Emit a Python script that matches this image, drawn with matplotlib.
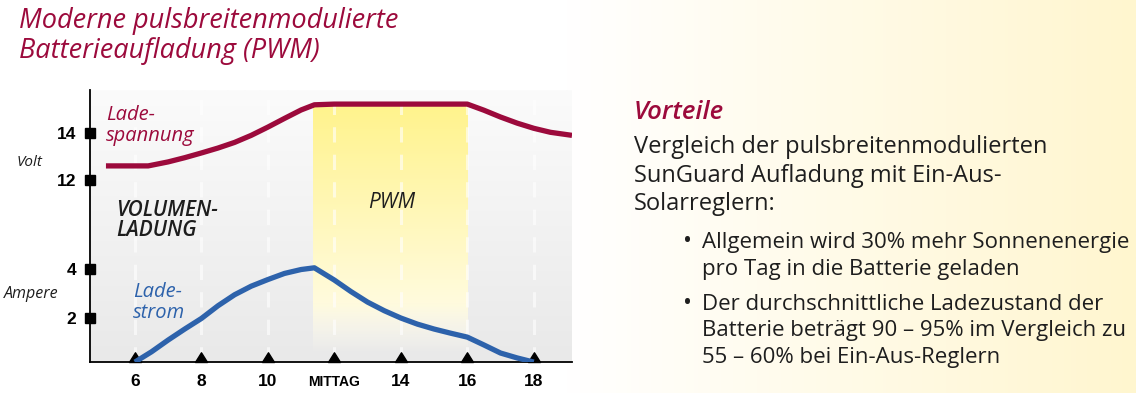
import numpy as np
import matplotlib
matplotlib.use("Agg")
import matplotlib.pyplot as plt
from matplotlib.path import Path
from matplotlib.colors import to_rgb

# --- data -------------------------------------------------------------------
hours_v = [5.13, 6.4, 7.0, 7.5, 8.0, 8.5, 9.0, 9.5, 10.0, 10.5, 11.0, 11.4, 12.0,
           14.0, 16.0, 16.5, 17.0, 17.5, 18.0, 18.5, 19.15]
volts = [12.6, 12.6, 12.77, 12.95, 13.15, 13.36, 13.6, 13.9, 14.25, 14.62, 14.98,
         15.2, 15.23, 15.23, 15.23, 14.97, 14.68, 14.42, 14.2, 14.03, 13.9]

hours_a = [6.0, 6.5, 7.0, 7.5, 8.0, 8.5, 9.0, 9.5, 10.0, 10.5, 11.0, 11.4,
           12.0, 12.5, 13.0, 13.5, 14.0, 14.5, 15.0, 15.5, 16.0, 16.5, 17.0, 17.5, 18.0]
amps = [0.2, 0.62, 1.1, 1.55, 1.98, 2.5, 2.95, 3.3, 3.57, 3.82, 3.98, 4.05,
        3.55, 3.08, 2.65, 2.3, 2.0, 1.75, 1.55, 1.38, 1.22, 0.9, 0.57, 0.37, 0.2]

hour_ticks = [6, 8, 10, 12, 14, 16, 18]
hour_labels = ["6", "8", "10", "MITTAG", "14", "16", "18"]
volt_ticks = [12, 14]
amp_ticks = [2, 4]
pwm_span = (11.35, 16.0)

title = "Moderne pulsbreitenmodulierte\nBatterieaufladung (PWM)"
side_head = "Vorteile"
side_intro = ["Vergleich der pulsbreitenmodulierten",
              "SunGuard Aufladung mit Ein-Aus-",
              "Solarreglern:"]
bullets = [["Allgemein wird 30% mehr Sonnenenergie", "pro Tag in die Batterie geladen"],
           ["Der durchschnittliche Ladezustand der",
            "Batterie beträgt 90 – 95% im Vergleich zu",
            "55 – 60% bei Ein-Aus-Reglern"]]

# --- style -------------------------------------------------------------------
CRIMSON = "#9c0a3c"
BLUE = "#2d62ab"
TEXT = "#1e1e1e"
W, H = 1136, 393
plt.rcParams["font.family"] = ["Open Sans", "DejaVu Sans"]


def fx(px):
    return px / W


def fy(py):
    return 1 - py / H


fig = plt.figure(figsize=(W / 100, H / 100), dpi=100)

# page background: white on the left, pale cream towards the right edge
bg = fig.add_axes([0, 0, 1, 1], zorder=-10)
bg.axis("off")
t = np.clip((np.linspace(0, 1, 400) - 0.5) / 0.5, 0, 1)
c0, c1 = np.array(to_rgb("#ffffff")), np.array(to_rgb("#fff6cf"))
row = c0[None, :] * (1 - t[:, None]) + c1[None, :] * t[:, None]
bg.imshow(row[None, :, :], aspect="auto", extent=[0, 1, 0, 1])

# chart axes (volt scale) + twin (ampere scale)
left, right, top, bottom = 90, 572, 90, 362
ax = fig.add_axes([fx(left), fy(bottom), fx(right - left), (bottom - top) / H])
ax.set_xlim(4.65, 19.15)
ax.set_ylim(4.255, 15.83)
ax2 = ax.twinx()
ax2.set_ylim(0.204, 11.31)

# plot area gradient (white at top to light grey at bottom)
g = np.linspace(0, 1, 200)[:, None]
ct, cb = np.array(to_rgb("#fbfbfb")), np.array(to_rgb("#e9e9e9"))
grad = ct[None, :] * (1 - g[..., None]) + cb[None, :] * g[..., None]
ax.imshow(grad, aspect="auto", extent=[0, 1, 0, 1], transform=ax.transAxes, zorder=0)

# PWM band: yellow at the top fading to white, soft lower edge
band_top = max(volts)
band_bot = 4.6
n = 200
s = np.linspace(0, 1, n)[:, None]
yt, yb = np.array(to_rgb("#fff38c")), np.array(to_rgb("#fffdf2"))
yel = np.ones((n, 1, 4))
yel[..., :3] = yt[None, None, :] * (1 - s[..., None]) + yb[None, None, :] * s[..., None]
yel[:, 0, 3] = np.clip((1 - s[:, 0]) / 0.2, 0, 1)
ax.imshow(yel, aspect="auto", extent=[pwm_span[0], pwm_span[1], band_bot, band_top],
          zorder=1, interpolation="bilinear")

# white dashed guides at each hour
for h in hour_ticks:
    ax.axvline(h, color="white", lw=2.2, ls=(0, (5, 4)), alpha=0.6, zorder=2)

ax.plot(hours_v, volts, color=CRIMSON, lw=3.8, solid_capstyle="butt",
        solid_joinstyle="round", zorder=5)
ax2.plot(hours_a, amps, color=BLUE, lw=3.8, solid_capstyle="butt",
         solid_joinstyle="round", zorder=5)

for a_ in (ax, ax2):
    for s_ in ("top", "right"):
        a_.spines[s_].set_visible(False)
    a_.spines["left"].set_linewidth(1.3)
    a_.spines["bottom"].set_linewidth(1.3)
    a_.patch.set_visible(False)
ax2.spines["left"].set_visible(False)
ax2.spines["bottom"].set_visible(False)

# y ticks: labels via axis machinery, square markers drawn on the spine
ax.set_yticks(volt_ticks, [str(v) for v in volt_ticks])
ax2.yaxis.set_ticks_position("left")
ax2.set_yticks(amp_ticks, [str(v) for v in amp_ticks])
for a_ in (ax, ax2):
    a_.tick_params(axis="y", length=0, pad=10)
    for lab in a_.get_yticklabels():
        lab.set_fontfamily(["Liberation Sans", "DejaVu Sans"])
        lab.set_fontweight("bold")
        lab.set_fontsize(12.5)
ax.plot([ax.get_xlim()[0]] * len(volt_ticks), volt_ticks, ls="none", marker="s",
        ms=6.5, color="black", clip_on=False, zorder=10)
ax2.plot([ax.get_xlim()[0]] * len(amp_ticks), amp_ticks, ls="none", marker="s",
         ms=6.5, color="black", clip_on=False, zorder=10)

# x ticks with triangle markers sitting on the baseline
ax.set_xticks(hour_ticks, hour_labels)
ax.tick_params(axis="x", length=0, pad=9)
for lab in ax.get_xticklabels():
    lab.set_fontfamily(["Liberation Sans", "DejaVu Sans"])
    lab.set_fontweight("bold")
    lab.set_fontsize(10 if lab.get_text() == "MITTAG" else 12.5)
tri = Path([(-0.5, 0), (0.5, 0), (0, 0.8), (-0.5, 0)],
           [Path.MOVETO, Path.LINETO, Path.LINETO, Path.CLOSEPOLY])
ax.plot(hour_ticks, [ax.get_ylim()[0]] * len(hour_ticks), ls="none", marker=tri,
        ms=14, color="black", clip_on=False, zorder=10)

# axis names
fig.text(fx(17), fy(166), "Volt", style="italic", fontsize=11, color=TEXT, va="baseline")
fig.text(fx(4), fy(298), "Ampere", style="italic", fontsize=11.5, color=TEXT, va="baseline")

# in-chart annotations
ax.text(5.13, 13.65, "Lade-\nspannung", style="italic", fontsize=14.5, color=CRIMSON,
        va="baseline", ha="left", linespacing=1.05, zorder=6)
ax2.text(5.95, 2.0, "Lade-\nstrom", style="italic", fontsize=14.5, color=BLUE,
         va="baseline", ha="left", linespacing=1.1, zorder=6)
ax.text(5.45, 9.6, "VOLUMEN-\nLADUNG", style="italic", fontweight="semibold",
        fontsize=15, color=TEXT, va="baseline", ha="left", linespacing=0.95, zorder=6)
ax.text(13.73, 10.8, "PWM", style="italic", fontsize=15, color=TEXT,
        va="baseline", ha="center", zorder=6)

# title
fig.text(fx(19), fy(28), title.split("\n")[0], style="italic", fontsize=19.5,
         color=CRIMSON, va="baseline")
fig.text(fx(19), fy(58), title.split("\n")[1], style="italic", fontsize=19.5,
         color=CRIMSON, va="baseline")

# side panel
fig.text(fx(634), fy(119), side_head, style="italic", fontweight="semibold",
         fontsize=18.5, color=CRIMSON, va="baseline")
for i, line in enumerate(side_intro):
    fig.text(fx(634), fy(153 + 28.5 * i), line, fontsize=17, color=TEXT, va="baseline")
y = 248
for item in bullets:
    fig.text(fx(683), fy(y), "•", fontsize=17, color=TEXT, va="baseline")
    for line in item:
        fig.text(fx(702), fy(y), line, fontsize=16, color=TEXT, va="baseline")
        y += 26.5
    y += 8.5

fig.savefig("out.png", dpi=100)
